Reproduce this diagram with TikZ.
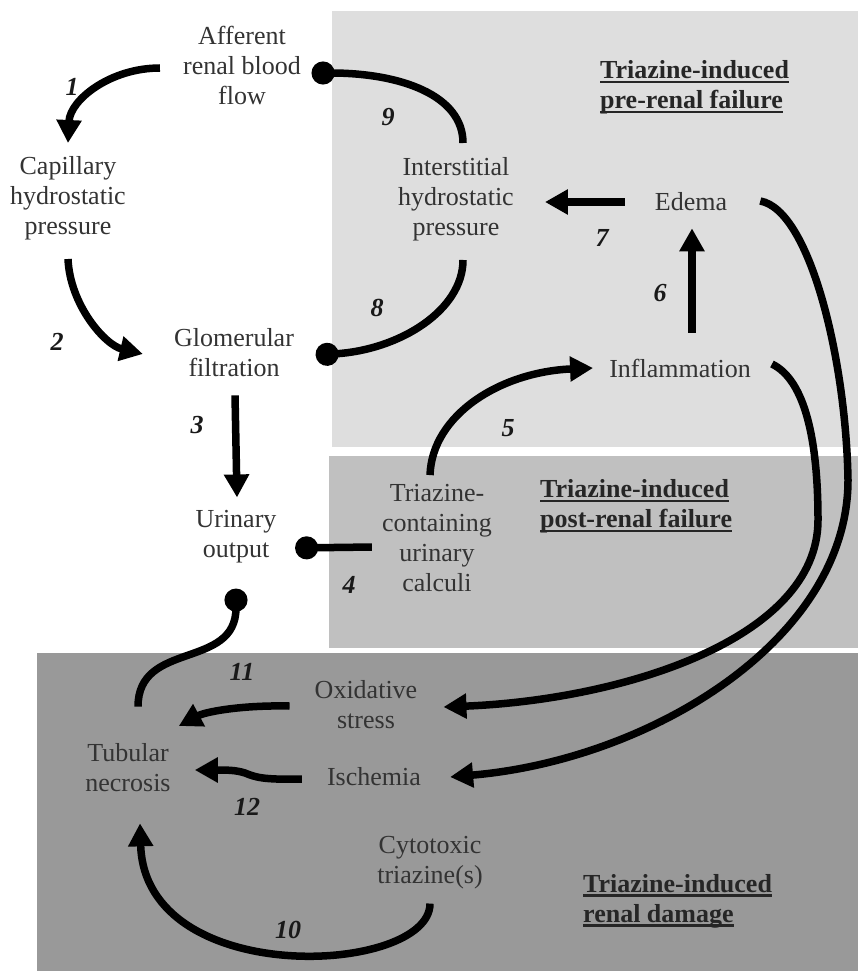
\documentclass[tikz,border=0pt]{standalone}
\usepackage{fontspec}
\setmainfont{Liberation Serif}
\usetikzlibrary{arrows.meta}

\definecolor{prefill}{HTML}{DEDEDE}
\definecolor{postfill}{HTML}{C0C0C0}
\definecolor{damfill}{HTML}{999999}
\definecolor{txtgray}{HTML}{333333}
\newcommand{\ulbox}[1]{\setbox0\hbox{#1}\rlap{\rule[-4.5pt]{\wd0}{2.2pt}}\box0}

\begin{document}
\begin{tikzpicture}[x=1pt, y=-1pt,
  every node/.style={font=\fontsize{26}{30}\selectfont, text=txtgray, inner sep=0pt, align=center},
  ttl/.style={font=\fontsize{26}{30}\selectfont\bfseries, text=black!85, align=left, anchor=west},
  num/.style={font=\fontsize{26}{30}\selectfont\bfseries\itshape, text=black!90},
  arr/.style={line width=7.5pt, -{Triangle[length=23pt,width=24pt]}},
  inh/.style={line width=7.5pt, -{Circle[length=23pt]}}]
  \useasboundingbox (0,0) rectangle (858,971);

  % Panels (grey)
  \fill[prefill] (332,11) rectangle (858,447);
  \fill[postfill] (329,456) rectangle (858,648);
  \fill[damfill] (37,653) rectangle (858,971);

  % Panel titles
  \node[ttl] (pretitle) at (600,87) {\ulbox{Triazine-induced}\\\ulbox{pre-renal failure}};
  \node[ttl] (posttitle) at (540,506) {\ulbox{Triazine-induced}\\\ulbox{post-renal failure}};
  \node[ttl] (damtitle) at (583,901) {\ulbox{Triazine-induced}\\\ulbox{renal damage}};

  % Quantities
  \node (aff) at (242,65) {Afferent\\renal blood\\flow};
  \node (cap) at (68,198) {Capillary\\hydrostatic\\pressure};
  \node (glom) at (234,353) {Glomerular\\filtration};
  \node (uri) at (236,537) {Urinary\\output};
  \node (calc) at (437,538) {Triazine-\\containing\\urinary\\calculi};
  \node (inter) at (456,199) {Interstitial\\hydrostatic\\pressure};
  \node (edema) at (691,202) {Edema};
  \node (infl) at (680,368) {Inflammation};
  \node (oxi) at (366,705) {Oxidative\\stress};
  \node (isch) at (374,777) {Ischemia};
  \node (tub) at (128,768) {Tubular\\necrosis};
  \node (cyto) at (430,863) {Cytotoxic\\triazine(s)};

  % Links (arrows = increase, dots = decrease)
  \draw[arr] ([xshift=-23pt,yshift=-3pt]aff.west) .. controls (110,68) and (70,100) .. ([yshift=13pt]cap.north);
  \draw[arr] ([yshift=-19pt]cap.south) .. controls (70,305) and (105,345) .. ([xshift=-31pt,yshift=-1pt]glom.west);
  \draw[arr] ([xshift=1pt,yshift=-18pt]glom.south) -- ([xshift=1pt,yshift=13pt]uri.north);
  \draw[inh] ([xshift=-10pt,yshift=-9pt]calc.west) -- ([xshift=18.5pt,yshift=-11pt]uri.east);
  \draw[arr] ([xshift=-7pt,yshift=9pt]calc.north) .. controls (432,415) and (500,372) .. ([xshift=-16pt]infl.west);
  \draw[arr] ([xshift=12pt,yshift=26pt]infl.north) -- ([xshift=1pt,yshift=-17pt]edema.south);
  \draw[arr] ([xshift=-30pt]edema.west) -- ([xshift=31pt,yshift=-3pt]inter.east);
  \draw[inh] ([xshift=7pt,yshift=-19pt]inter.south) .. controls (463,310) and (400,350) .. ([xshift=21.5pt,yshift=-2pt]glom.east);
  \draw[inh] ([xshift=7pt,yshift=14pt]inter.north) .. controls (463,95) and (400,73) .. ([xshift=10.5pt,yshift=-8pt]aff.east);
  \draw[arr] ([yshift=-14pt]cyto.south) .. controls (430,975) and (145,990) .. ([xshift=12pt,yshift=-31pt]tub.south);
  \draw[arr] ([xshift=-25pt,yshift=-1pt]oxi.west) .. controls (240,705) and (205,712) .. ([xshift=8pt,yshift=42pt]tub.east);
  \draw[arr] ([xshift=-25pt,yshift=-2pt]isch.west) .. controls (262,780) and (255,777) .. (245,773)
    .. controls (236,770) and (226,770) .. ([xshift=24pt,yshift=-2pt]tub.east);
  \draw[inh] ([xshift=10pt,yshift=37pt]tub.north) .. controls (138,640) and (236,670) .. ([yshift=-25pt]uri.south);
  \draw[arr] ([xshift=21pt,yshift=4pt]infl.east) .. controls (805,380) and (818,440) .. (818,520)
    .. controls (818,640) and (620,700) .. ([xshift=26pt,yshift=-2pt]oxi.east);
  \draw[arr] ([xshift=33pt,yshift=1pt]edema.east) .. controls (810,210) and (846,360) .. (848,480)
    .. controls (848,640) and (650,760) .. ([xshift=29pt]isch.east);

  % Link numbers
  \node[num] (n1) at (72,87) {1};
  \node[num] (n2) at (57,342) {2};
  \node[num] (n3) at (197,425) {3};
  \node[num] (n4) at (349,585) {4};
  \node[num] (n5) at (508,428) {5};
  \node[num] (n6) at (660,293) {6};
  \node[num] (n7) at (602,238) {7};
  \node[num] (n8) at (377,308) {8};
  \node[num] (n9) at (388,117) {9};
  \node[num] (n10) at (288,930) {10};
  \node[num] (n11) at (242,672) {11};
  \node[num] (n12) at (247,807) {12};
\end{tikzpicture}
\end{document}
